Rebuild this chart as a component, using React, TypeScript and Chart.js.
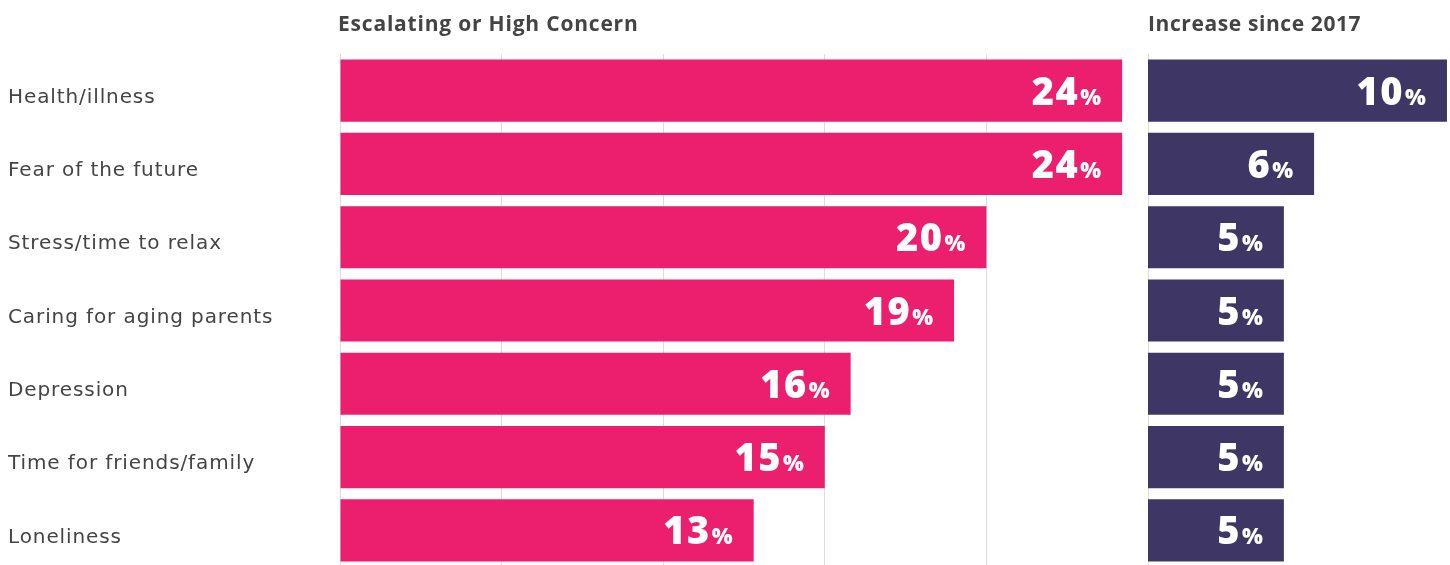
import React, { useEffect, useRef } from 'react';
import { Chart, registerables } from 'chart.js';

Chart.register(...registerables);

const categories = [
  'Health/illness',
  'Fear of the future',
  'Stress/time to relax',
  'Caring for aging parents',
  'Depression',
  'Time for friends/family',
  'Loneliness',
];
const concernValues = [24.2, 24.2, 20.0, 19.0, 15.8, 15.0, 12.8];
const increaseValues = [9.9, 5.5, 4.5, 4.5, 4.5, 4.5, 4.5];
const panelTitles = ['Escalating or High Concern', 'Increase since 2017'];

const PINK = '#EC1E6E';
const PURPLE = '#3E3766';
const TEXT = '#444444';
const GRID = '#dcdcdc';
const FONT = '"Open Sans", sans-serif';
const LABEL_FONT = '"DejaVu Sans", sans-serif';

const spacingPlugin = {
  id: 'spacing',
  beforeDraw(chart: any) {
    (chart.ctx as any).letterSpacing = '0.9px';
  },
  afterDraw(chart: any) {
    (chart.ctx as any).letterSpacing = '0px';
  },
};

const overlayPlugin = {
  id: 'overlay',
  afterDatasetsDraw(chart: any) {
    const ctx = chart.ctx as any;
    ctx.save();
    chart.data.datasets.forEach((ds: any, di: number) => {
      const meta = chart.getDatasetMeta(di);
      meta.data.forEach((bar: any, i: number) => {
        const v = Math.round(ds.data[i]);
        const right = bar.x - 21;
        const base = bar.y + 14;
        ctx.fillStyle = '#ffffff';
        ctx.textAlign = 'right';
        ctx.textBaseline = 'alphabetic';
        ctx.letterSpacing = '0px';
        ctx.font = `800 22px ${FONT}`;
        ctx.fillText('%', right, base);
        const pw = ctx.measureText('%').width;
        ctx.letterSpacing = '1.5px';
        ctx.font = `800 38px ${FONT}`;
        ctx.fillText(String(v), right - pw - 1, base);
      });
    });
    ctx.fillStyle = TEXT;
    ctx.textAlign = 'left';
    ctx.textBaseline = 'alphabetic';
    ctx.letterSpacing = '0.8px';
    ctx.font = `700 21px ${FONT}`;
    ctx.fillText(panelTitles[0], chart.scales.x.left - 2, 31);
    ctx.letterSpacing = '0.6px';
    ctx.fillText(panelTitles[1], chart.scales.x2.left, 31);
    ctx.restore();
  },
};

export default function App() {
  const ref = useRef<HTMLCanvasElement | null>(null);
  useEffect(() => {
    document.body.style.margin = '0';
    const canvas = ref.current;
    if (!canvas) return;
    const zeroHeight = (scale: any) => {
      scale.height = 0;
      scale.paddingLeft = 0;
      scale.paddingRight = 0;
    };
    const chart = new Chart(canvas, {
      type: 'bar',
      data: {
        labels: categories,
        datasets: [
          {
            data: concernValues,
            backgroundColor: PINK,
            xAxisID: 'x',
            grouped: false,
            barPercentage: 0.848,
            categoryPercentage: 1,
          } as any,
          {
            data: increaseValues,
            backgroundColor: PURPLE,
            xAxisID: 'x2',
            grouped: false,
            barPercentage: 0.848,
            categoryPercentage: 1,
          } as any,
        ],
      },
      options: {
        indexAxis: 'y',
        animation: false,
        responsive: false,
        maintainAspectRatio: false,
        layout: { padding: { left: 8, top: 54, right: 0, bottom: 0 } },
        plugins: {
          legend: { display: false },
          tooltip: { enabled: false },
        },
        scales: {
          y: {
            type: 'category',
            position: 'left',
            grid: { display: false },
            border: { display: false },
            ticks: {
              color: TEXT,
              font: { family: LABEL_FONT, size: 20 },
              crossAlign: 'far',
              padding: 0,
              labelOffset: 7,
              autoSkip: false,
            },
            afterFit: (scale: any) => {
              scale.width = 332;
              scale.paddingTop = 0;
              scale.paddingBottom = 0;
            },
          },
          x: {
            type: 'linear',
            position: 'bottom',
            stack: 'panels',
            stackWeight: 808,
            min: 0,
            max: 25,
            ticks: { display: false, stepSize: 5 },
            grid: { color: GRID, lineWidth: 1, drawTicks: false },
            border: { display: false },
            afterFit: zeroHeight,
          },
          x2: {
            type: 'linear',
            position: 'bottom',
            stack: 'panels',
            stackWeight: 302,
            min: 0,
            max: 10,
            ticks: { display: false },
            grid: { display: false, drawTicks: false },
            border: { display: false },
            afterFit: zeroHeight,
          },
        },
      } as any,
      plugins: [spacingPlugin, overlayPlugin],
    });
    return () => chart.destroy();
  }, []);
  return (
    <div style={{ width: 1450, height: 567, position: 'relative' }}>
      <canvas ref={ref} width={1450} height={567} style={{ display: 'block' }} />
    </div>
  );
}
